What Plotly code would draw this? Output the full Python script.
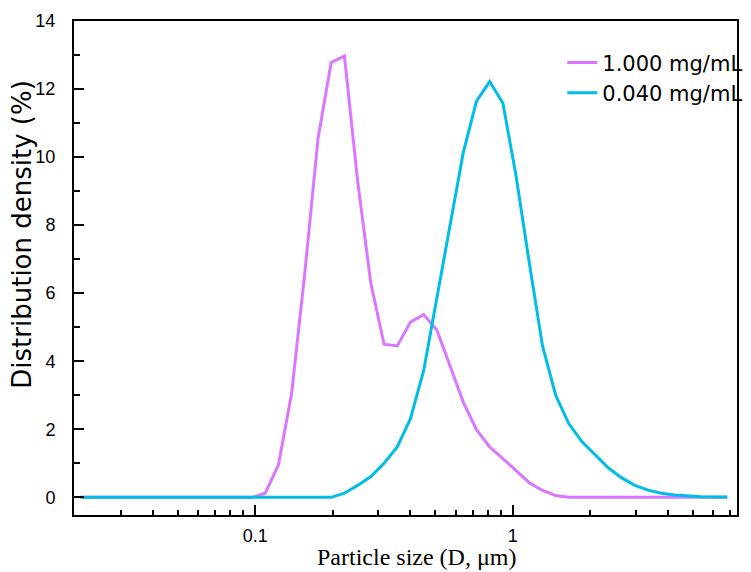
import plotly.graph_objects as go

# Particle size bins (µm)
sizes = [0.02094, 0.02357, 0.02652, 0.02984, 0.03358, 0.03779, 0.04252, 0.04785, 0.05385, 0.06059,
         0.06818, 0.07674, 0.08633, 0.09716, 0.1093, 0.1230, 0.1384, 0.1558, 0.1753, 0.1972,
         0.2220, 0.2498, 0.2811, 0.3164, 0.3560, 0.4006, 0.4508, 0.5073, 0.5709, 0.6424,
         0.7229, 0.8136, 0.9155, 1.030, 1.159, 1.305, 1.468, 1.652, 1.859, 2.092,
         2.354, 2.650, 2.981, 3.355, 3.776, 4.248, 4.780, 5.380, 6.053, 6.811]

dens_1000 = [0, 0, 0, 0, 0, 0, 0, 0, 0, 0,
             0, 0, 0, 0, 0.12, 0.95, 3.05, 6.6, 10.55, 12.78,
             12.97, 9.3, 6.29, 4.5, 4.45, 5.15, 5.37, 4.92, 3.86, 2.8,
             1.99, 1.48, 1.14, 0.78, 0.43, 0.2, 0.05, 0, 0, 0,
             0, 0, 0, 0, 0, 0, 0, 0, 0, 0]

dens_0040 = [0, 0, 0, 0, 0, 0, 0, 0, 0, 0,
             0, 0, 0, 0, 0, 0, 0, 0, 0, 0,
             0.12, 0.35, 0.61, 1.0, 1.48, 2.31, 3.72, 5.85, 7.95, 10.13,
             11.64, 12.22, 11.59, 9.45, 6.9, 4.45, 3.0, 2.16, 1.63, 1.24,
             0.86, 0.57, 0.35, 0.21, 0.12, 0.07, 0.04, 0.02, 0.01, 0.01]

series_names = ["1.000 mg/mL", "0.040 mg/mL"]
x_tickvals = [0.1, 1]
x_ticktext = ["0.1", "1"]
x_minor = [0.03, 0.04, 0.05, 0.06, 0.07, 0.08, 0.09,
           0.2, 0.3, 0.4, 0.5, 0.6, 0.7, 0.8, 0.9,
           2, 3, 4, 5, 6, 7]
y_tickvals = [0, 2, 4, 6, 8, 10, 12, 14]

fig = go.Figure()
fig.add_trace(go.Scatter(x=sizes, y=dens_1000, mode="lines", name=series_names[0],
                         line=dict(color="#DA76FF", width=3)))
fig.add_trace(go.Scatter(x=sizes, y=dens_0040, mode="lines", name=series_names[1],
                         line=dict(color="#00BDE7", width=3)))

# page body has an 8px default margin: size the figure so it fits the window
fig.update_layout(
    width=743, height=564,
    margin=dict(l=66, r=3, t=9, b=57),
    plot_bgcolor="white", paper_bgcolor="white",
    font=dict(family="Liberation Sans, Arial", color="black"),
    showlegend=True,
    legend=dict(x=1.017, xanchor="right", y=0.957, yanchor="top",
                font=dict(size=21, family="DejaVu Sans"),
                bgcolor="rgba(0,0,0,0)", tracegroupgap=0),
    xaxis=dict(type="log", range=[-1.704, 0.871],
               tickvals=x_tickvals, ticktext=x_ticktext,
               ticks="inside", ticklen=10, tickwidth=1.5, tickcolor="black",
               minor=dict(tickvals=x_minor, ticks="inside", ticklen=5, tickwidth=1.5, tickcolor="black"),
               showline=True, linewidth=2, linecolor="black", mirror=True,
               showgrid=False, zeroline=False,
               tickfont=dict(size=18), ticklabelstandoff=3,
               ticklabeloverflow="allow"),
    yaxis=dict(range=[-0.52, 14], tickvals=y_tickvals,
               ticks="inside", ticklen=10, tickwidth=1.5, tickcolor="black",
               minor=dict(dtick=1, tick0=0, ticks="inside", ticklen=6, tickwidth=1.5, tickcolor="black"),
               showline=True, linewidth=2, linecolor="black", mirror=True,
               showgrid=False, zeroline=False,
               tickfont=dict(size=18), ticklabelstandoff=13,
               ticklabeloverflow="allow"),
    annotations=[
        dict(text="Distribution density (%)", textangle=-90,
             xref="paper", yref="paper", x=-0.078, y=0.568,
             xanchor="center", yanchor="middle", showarrow=False,
             font=dict(size=26, family="DejaVu Sans")),
        dict(text="Particle size (D, μm)",
             xref="paper", yref="paper", x=0.516, y=-0.086,
             xanchor="center", yanchor="middle", showarrow=False,
             font=dict(size=24, family="Liberation Serif, Times New Roman")),
    ],
)

fig.write_html("out.html")
